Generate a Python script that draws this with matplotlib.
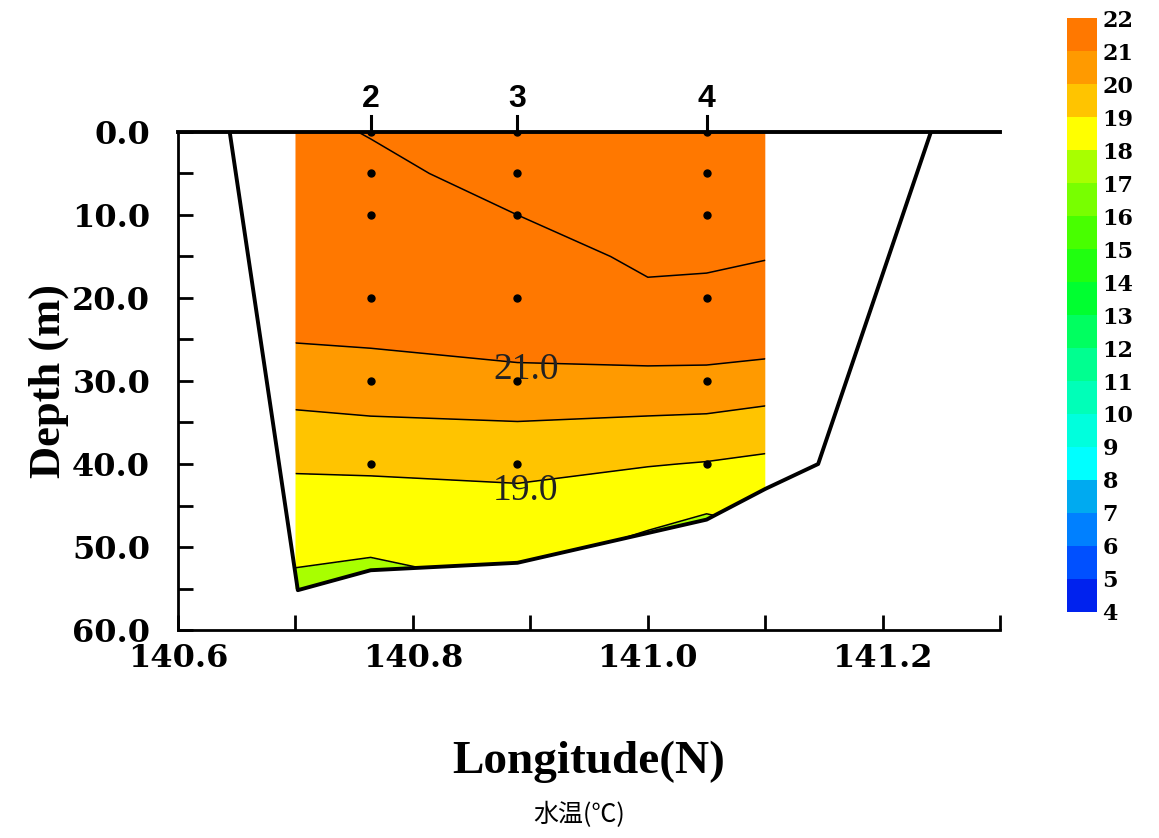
import numpy as np
import matplotlib
matplotlib.use("Agg")
import matplotlib.pyplot as plt
from matplotlib.colors import ListedColormap, BoundaryNorm
from matplotlib.patches import Polygon
import matplotlib.cm as cm

# grid columns (longitude) and depth rows of the temperature section
grid_lon = [140.70, 140.764, 140.889, 141.00, 141.05, 141.10]
grid_depth = [0, 5, 10, 15, 20, 25, 30, 35, 40, 45, 50, 55]

# temperature (deg C), one list per column, top to bottom
temp_a = [21.9, 21.8, 21.7, 21.6, 21.45, 21.05, 20.45, 19.8, 19.15, 18.5, 18.15, 17.85]
temp_b = [22.02, 21.9, 21.8, 21.65, 21.45, 21.12, 20.55, 19.9, 19.2, 18.5, 18.1, 17.7]
temp_c = [22.3, 22.15, 22.0, 21.75, 21.5, 21.25, 20.8, 19.98, 19.35, 18.6, 18.3, 18.0]
temp_d = [22.4, 22.3, 22.2, 22.1, 21.9, 21.35, 20.8, 19.85, 19.05, 18.3, 17.8, 17.5]
temp_e = [22.5, 22.4, 22.3, 22.1, 21.85, 21.4, 20.75, 19.8, 18.95, 18.1, 17.6, 17.3]
temp_f = [22.5, 22.4, 22.3, 22.02, 21.8, 21.35, 20.6, 19.6, 18.8, 18.2, 17.8, 17.5]

# sea bottom profile
bottom_lon = [140.644, 140.702, 140.764, 140.889, 141.05, 141.10, 141.145, 141.241]
bottom_depth = [0, 55.2, 52.8, 51.9, 46.7, 43.0, 40.0, 0]

# stations
station_names = ["2", "3", "4"]
station_lon = [140.764, 140.889, 141.05]
sample_depth = [0, 5, 10, 20, 30, 40]

cbar_levels = list(range(4, 23))
cbar_colors = ["#0022ee", "#0050ff", "#0080ff", "#00aaf0", "#00ffff", "#00ffdd",
               "#00ffb8", "#00ff90", "#00ff60", "#00ff30", "#20ff10", "#48ff00",
               "#78ff00", "#a8ff00", "#ffff00", "#ffc400", "#ff9a00", "#ff7800"]

serif = "Liberation Serif"
wide_serif = "DejaVu Serif"

fig = plt.figure(figsize=(11.59, 8.38), dpi=100)
ax = fig.add_axes([0.1536, 0.2482, 0.7094, 0.5943])

cmap = ListedColormap(cbar_colors)
cmap.set_over(cbar_colors[-1])
norm = BoundaryNorm(cbar_levels, cmap.N)

T = np.array([temp_a, temp_b, temp_c, temp_d, temp_e, temp_f]).T
X, Y = np.meshgrid(grid_lon, grid_depth)

# fill region = inside the bottom profile and inside the section grid
clip_pts = [(grid_lon[0], 0), (grid_lon[-1], 0)]
for lo, de in zip(bottom_lon[::-1], bottom_depth[::-1]):
    if grid_lon[0] <= lo <= grid_lon[-1] and de > 0:
        clip_pts.append((lo, de))
clip_pts.append((grid_lon[0], bottom_depth[1]))
clip = Polygon(clip_pts, closed=True, transform=ax.transData, facecolor="none", edgecolor="none")
ax.add_patch(clip)

cf = ax.contourf(X, Y, T, levels=cbar_levels, cmap=cmap, norm=norm, extend="max")
cf.set_clip_path(clip)
cl = ax.contour(X, Y, T, levels=[18, 19, 20, 21, 22], colors="black", linewidths=1.1)
cl.set_clip_path(clip)
lbl = ax.clabel(cl, manual=[(140.89, 28.0), (140.89, 42.0)],
                inline=False, fmt="%.1f", fontsize=27, colors="#222222")
for t in lbl:
    t.set_fontfamily(serif)
    t.set_rotation(0)
    px, py = t.get_position()
    t.set_position((px + 0.006, py + 0.9))

ax.plot(bottom_lon, bottom_depth, color="black", lw=2.8)

# sample points and station marks
for lo in station_lon:
    ax.plot([lo] * len(sample_depth), sample_depth, "o", color="black", ms=5, zorder=5)
    ax.plot([lo, lo], [0, -1.9], color="black", lw=2.2, clip_on=False)
for name, lo in zip(station_names, station_lon):
    ax.text(lo, -4.0, name, ha="center", va="center", fontsize=23,
            fontweight="bold", family="Liberation Sans")

ax.set_xlim(140.6, 141.3)
ax.set_ylim(60, 0)
ax.set_xticks(np.arange(140.6, 141.31, 0.2))
ax.set_xticks(np.arange(140.6, 141.31, 0.1), minor=True)
ax.set_yticks(np.arange(0, 61, 10))
ax.set_yticks(np.arange(0, 61, 5), minor=True)
ax.set_xticklabels(["140.6", "140.8", "141.0", "141.2"])
ax.set_yticklabels(["%.1f" % v for v in np.arange(0, 61, 10)])
ax.tick_params(which="both", direction="in", length=11, width=2)
ax.tick_params(axis="x", pad=9)
ax.tick_params(axis="y", pad=20)
for t in ax.get_xticklabels() + ax.get_yticklabels():
    t.set_fontfamily(wide_serif)
    t.set_fontweight("bold")
    t.set_fontsize(23)
ax.spines["right"].set_visible(False)
for s in ["left", "bottom"]:
    ax.spines[s].set_linewidth(2)
ax.spines["top"].set_linewidth(2.8)

ax.set_xlabel("Longitude(N)", fontsize=34, fontweight="bold", family=serif, labelpad=48)
ax.set_ylabel("Depth (m)", fontsize=32, fontweight="bold", family=serif, labelpad=2)

# colour bar
cax = fig.add_axes([0.9206, 0.2697, 0.0259, 0.7088])
sm = cm.ScalarMappable(norm=norm, cmap=cmap)
cb = fig.colorbar(sm, cax=cax, ticks=cbar_levels)
cb.outline.set_visible(False)
cb.ax.tick_params(length=0, pad=4)
for t in cb.ax.get_yticklabels():
    t.set_fontfamily(wide_serif)
    t.set_fontweight("bold")
    t.set_fontsize(16)

fig.text(0.5, 0.027, "水温(℃)", ha="center", va="center", fontsize=18,
         family=["Noto Sans CJK JP", "DejaVu Sans"])

fig.savefig("out.png", dpi=100)
